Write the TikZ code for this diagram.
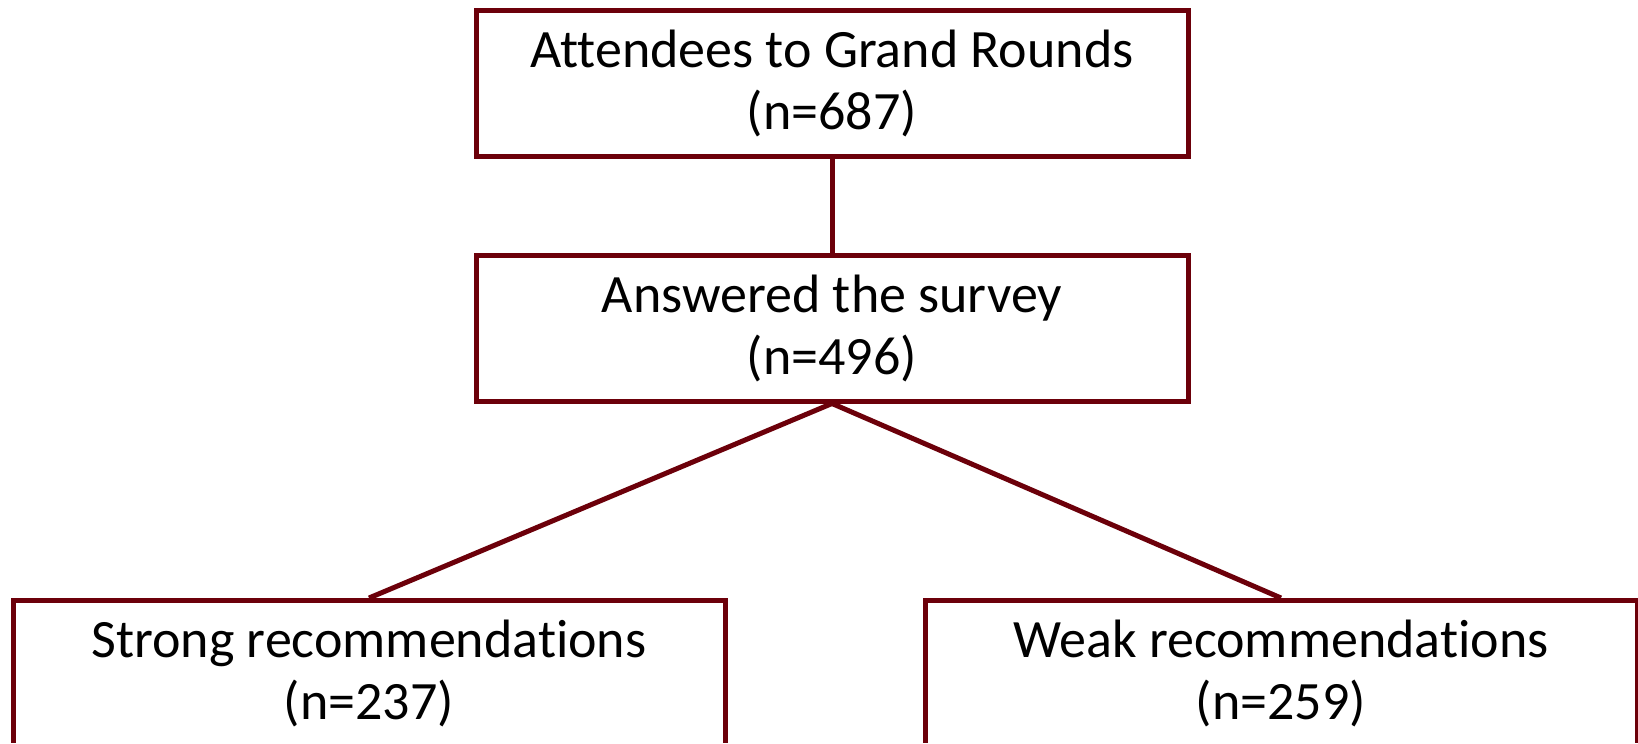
\documentclass[tikz,border=0pt]{standalone}
\usepackage{fontspec}
\setmainfont[Ligatures={NoCommon}]{Carlito}
\definecolor{boxred}{RGB}{108,0,10}

\begin{document}
\begin{tikzpicture}[x=0.5pt, y=-0.5pt,
    flowbox/.style={draw=boxred, line width=2.5pt, fill=white, align=center,
        minimum width=356pt, minimum height=73pt, inner sep=0pt,
        font=\fontsize{27}{31}\selectfont},
    link/.style={draw=boxred, line width=2.5pt}]

% Canvas
\useasboundingbox (0,0) rectangle (1638,744);
\clip (0,0) rectangle (1638,742);

% Top of the flow
\node[flowbox] (attendees) at (832,83) {Attendees to Grand Rounds\\(n=687)};
\node[flowbox] (answered) at (832,328) {Answered the survey\\(n=496)};

% Split into the two groups
\node[flowbox, anchor=north] (strong) at (369,598) {Strong recommendations\\(n=237)};
\node[flowbox, anchor=north] (weak) at (1281,598) {Weak recommendations\\(n=259)};

% Connectors
\draw[link] (attendees.south) -- (answered.north);
\draw[link] (answered.south) -- (strong.north);
\draw[link] (answered.south) -- (weak.north);

\end{tikzpicture}
\end{document}
